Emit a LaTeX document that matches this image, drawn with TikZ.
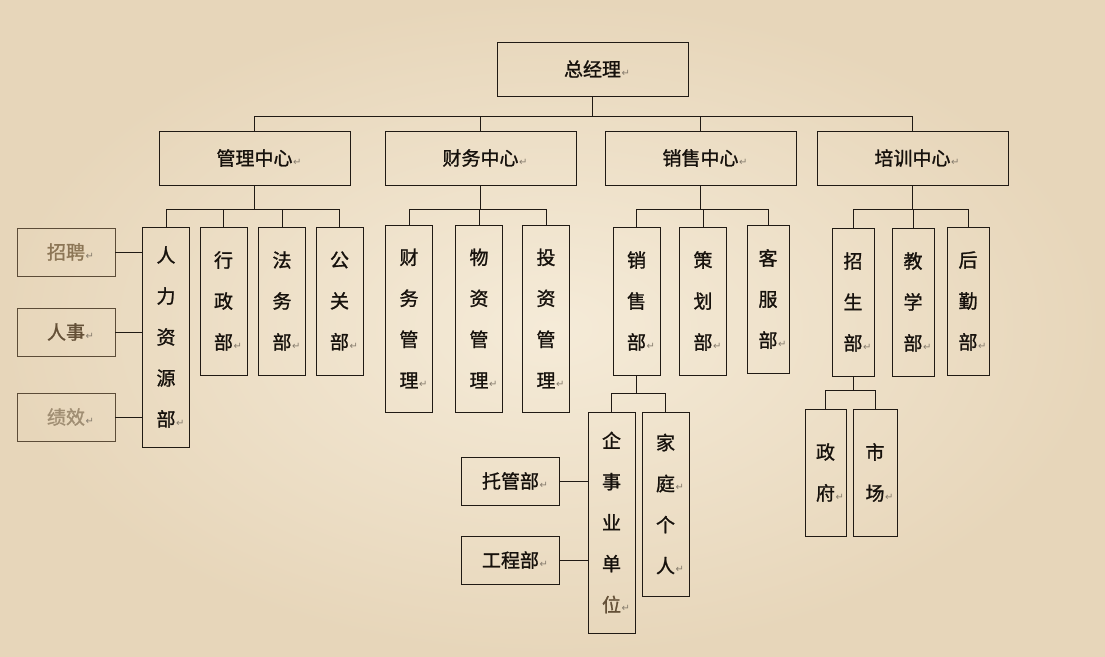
\documentclass[tikz,border=0pt]{standalone}
\usepackage{fontspec}
\newfontfamily\cjk{Noto Sans CJK SC}[FakeBold=1.2]
\newfontfamily\retfont{DejaVu Sans}
\definecolor{pgPaper}{RGB}{245,235,216}
\definecolor{pgEdge}{RGB}{231,214,186}
\definecolor{pgInk}{RGB}{22,17,12}
\definecolor{pgLine}{RGB}{32,26,20}
\definecolor{pgMark}{RGB}{135,125,110}
\definecolor{pgSoft}{RGB}{140,118,86}
\definecolor{pgDeep}{RGB}{100,80,55}
\definecolor{pgPale}{RGB}{160,142,115}
\definecolor{pgFrame}{RGB}{92,76,56}
\newcommand\retmark{\rlap{\kern0.5pt\textcolor{pgMark}{\retfont\fontsize{10}{10}\selectfont ↵}}}
\tikzset{
    base/.style={font=\cjk\fontsize{19}{41}\selectfont, align=center, text=pgInk},
    post/.style={base, draw=pgLine, line width=0.9pt, inner sep=0pt},
    hub/.style={post, minimum width=191pt, minimum height=54pt},
    side/.style={post, minimum width=98pt, minimum height=48pt},
    tall/.style={post, minimum width=47pt},
    link/.style={draw=pgLine, line width=1pt}
}
\begin{document}
\begin{tikzpicture}[x=1pt, y=-1pt]
  % Paper
  \useasboundingbox (0,0) rectangle (1105,656);
  \shade[inner color=pgPaper, outer color=pgEdge] (0,0) rectangle (1105,656);

  % Top
  \node[hub] (ceo) at (592.5,69) {总经理\retmark};

  % Centres
  \node[hub] (mgmt) at (254.5,158) {管理中心\retmark};
  \node[hub] (fin) at (480.5,158) {财务中心\retmark};
  \node[hub] (sales) at (700.5,158) {销售中心\retmark};
  \node[hub] (train) at (912.5,158) {培训中心\retmark};

  % Management
  \node[tall, minimum height=220pt] (hr) at (166,337) {人\\力\\资\\源\\部\retmark};
  \node[tall, minimum height=148pt] (admin) at (223.5,301) {行\\政\\部\retmark};
  \node[tall, minimum height=148pt] (legal) at (282,301) {法\\务\\部\retmark};
  \node[tall, minimum height=148pt] (pr) at (339.5,301) {公\\关\\部\retmark};
  \node[side, draw=pgFrame, text=pgSoft] (recruit) at (66,252) {招聘\retmark};
  \node[side, draw=pgFrame, text=pgDeep] (staff) at (66,332) {人事\retmark};
  \node[side, draw=pgFrame, text=pgPale] (perf) at (66,417) {绩效\retmark};

  % Finance
  \node[tall, minimum height=187pt] (finmgmt) at (409,318.5) {财\\务\\管\\理\retmark};
  \node[tall, minimum height=187pt] (matmgmt) at (479,318.5) {物\\资\\管\\理\retmark};
  \node[tall, minimum height=187pt] (invmgmt) at (546,318.5) {投\\资\\管\\理\retmark};

  % Sales
  \node[tall, minimum height=148pt] (salesdept) at (636.5,301) {销\\售\\部\retmark};
  \node[tall, minimum height=148pt] (plan) at (703,301) {策\\划\\部\retmark};
  \node[tall, minimum width=42pt, minimum height=148pt] (service) at (768,299) {客\\服\\部\retmark};
  \node[tall, minimum height=221pt] (ent) at (611.5,522.5) {企\\事\\业\\单\\\textcolor{pgDeep}{位}\retmark};
  \node[tall, minimum height=184pt] (family) at (665.5,504) {家\\庭\retmark\\个\\人\retmark};
  \node[side] (trust) at (510.5,481) {托管部\retmark};
  \node[side] (eng) at (510.5,560) {工程部\retmark};

  % Training
  \node[tall, minimum width=42pt, minimum height=148pt] (enroll) at (853,302) {招\\生\\部\retmark};
  \node[tall, minimum width=42pt, minimum height=148pt] (teach) at (913,302) {教\\学\\部\retmark};
  \node[tall, minimum width=42pt, minimum height=148pt] (logistics) at (968,301) {后\\勤\\部\retmark};
  \node[tall, minimum width=41pt, minimum height=127pt] (gov) at (825.5,472.5) {政\\府\retmark};
  \node[tall, minimum width=44pt, minimum height=127pt] (market) at (875,472.5) {市\\场\retmark};

  % Links
  \foreach \c in {mgmt,fin,sales,train}
    \draw[link] (ceo.south) -- ++(0,20) -| (\c.north);
  \foreach \c in {hr,admin,legal,pr}
    \draw[link] (mgmt.south) -- ++(0,24) -| (\c.north);
  \foreach \c in {finmgmt,matmgmt,invmgmt}
    \draw[link] (fin.south) -- ++(0,24) -| (\c.north);
  \foreach \c in {salesdept,plan,service}
    \draw[link] (sales.south) -- ++(0,24) -| (\c.north);
  \foreach \c in {enroll,teach,logistics}
    \draw[link] (train.south) -- ++(0,24) -| (\c.north);
  \foreach \c in {ent,family}
    \draw[link] (salesdept.south) -- ++(0,18) -| (\c.north);
  \foreach \c in {gov,market}
    \draw[link] (enroll.south) -- ++(0,14) -| (\c.north);
  \foreach \c in {recruit,staff,perf}
    \draw[link] (\c.east) -- (\c.east -| hr.west);
  \foreach \c in {trust,eng}
    \draw[link] (\c.east) -- (\c.east -| ent.west);
\end{tikzpicture}
\end{document}
